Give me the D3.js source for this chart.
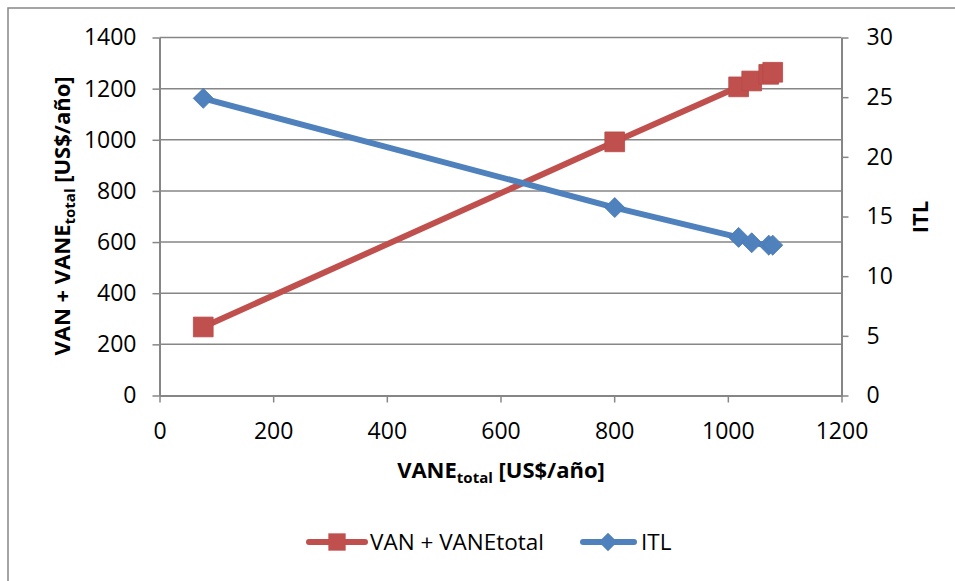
<!DOCTYPE html>
<html>
<head>
<meta charset="utf-8">
<script src="https://cdn.jsdelivr.net/npm/d3@7"></script>
<style>
  html, body { margin: 0; padding: 0; background: #fff; }
  svg { display: block; }
  text { font-family: "Open Sans", "Liberation Sans", Arial, sans-serif; fill: #000; }
</style>
</head>
<body>
<svg id="chart" width="955" height="581"></svg>
<script>
// VANE total values (shared x for both series)
const vaneTotal = [77, 801, 1019, 1042, 1072, 1079];
// VAN + VANE total, left axis
const vanPlusVane = [268, 992, 1207, 1230, 1256, 1264];
// ITL, right axis
const itl = [24.9, 15.75, 13.25, 12.8, 12.6, 12.6];

const xTicks = [0, 200, 400, 600, 800, 1000, 1200];
const yLeftTicks = [0, 200, 400, 600, 800, 1000, 1200, 1400];
const yRightTicks = [0, 5, 10, 15, 20, 25, 30];
const seriesNames = ["VAN + VANEtotal", "ITL"];

const svg = d3.select("#chart");
const plotLeft = 159.5, plotRight = 841.5, plotTop = 37.5, plotBottom = 395.5;
const gray = "#868686";
const red = "#C0504D", blue = "#4F81BD";
const fmt = d3.format("d");

// chart frame
svg.append("rect").attr("x", 8).attr("y", 8).attr("width", 960).attr("height", 600)
  .attr("fill", "none").attr("stroke", gray).attr("stroke-width", 1.5);

const x = d3.scaleLinear().domain([0, 1200]).range([plotLeft, plotRight]);
const yL = d3.scaleLinear().domain([0, 1400]).range([plotBottom, plotTop]);
const yR = d3.scaleLinear().domain([0, 30]).range([plotBottom, plotTop]);

// horizontal gridlines
svg.append("g").selectAll("line").data(yLeftTicks.filter(d => d > 0)).join("line")
  .attr("x1", plotLeft).attr("x2", plotRight)
  .attr("y1", d => yL(d)).attr("y2", d => yL(d))
  .attr("stroke", gray).attr("stroke-width", 1.5);

function styleAxis(g) {
  g.selectAll(".domain").attr("stroke", gray).attr("stroke-width", 2);
  g.selectAll(".tick line").attr("stroke", gray).attr("stroke-width", 1.5);
  g.selectAll(".tick text").attr("font-size", 23).attr("fill", "#000")
    .attr("font-family", "'Open Sans', 'Liberation Sans', Arial, sans-serif");
}

svg.append("g").attr("transform", `translate(0,${plotBottom})`)
  .call(d3.axisBottom(x).tickValues(xTicks).tickFormat(fmt).tickSizeInner(7).tickSizeOuter(0).tickPadding(20))
  .call(styleAxis);

svg.append("g").attr("transform", `translate(${plotLeft},0)`)
  .call(d3.axisLeft(yL).tickValues(yLeftTicks).tickFormat(fmt).tickSizeInner(7).tickSizeOuter(0).tickPadding(16))
  .call(styleAxis);

svg.append("g").attr("transform", `translate(${plotRight},0)`)
  .call(d3.axisRight(yR).tickValues(yRightTicks).tickFormat(fmt).tickSizeInner(7).tickSizeOuter(0).tickPadding(18))
  .call(styleAxis);

// axis titles
const xt = svg.append("text").attr("x", 501).attr("y", 478).attr("text-anchor", "middle")
  .attr("font-size", 22).attr("font-weight", "bold");
xt.append("tspan").text("VANE");
xt.append("tspan").attr("font-size", 15).attr("dy", 5).text("total");
xt.append("tspan").attr("dy", -5).text(" [US$/año]");

const yt = svg.append("text").attr("transform", "translate(70,216) rotate(-90)")
  .attr("text-anchor", "middle").attr("font-size", 22).attr("font-weight", "bold");
yt.append("tspan").text("VAN + VANE");
yt.append("tspan").attr("font-size", 15).attr("dy", 5).text("total");
yt.append("tspan").attr("dy", -5).text(" [US$/año]");

svg.append("text").attr("transform", "translate(928,217) rotate(-90)")
  .attr("text-anchor", "middle").attr("font-size", 22).attr("font-weight", "bold").text("ITL");

// series
const redPts = vaneTotal.map((v, i) => [x(v), yL(vanPlusVane[i])]);
const bluePts = vaneTotal.map((v, i) => [x(v), yR(itl[i])]);
const line = d3.line();

svg.append("path").attr("d", line(redPts)).attr("fill", "none")
  .attr("stroke", red).attr("stroke-width", 6).attr("stroke-linejoin", "round");
const sq = d3.symbol().type(d3.symbolSquare).size(390);
svg.append("g").selectAll("path").data(redPts).join("path")
  .attr("transform", d => `translate(${d[0]},${d[1]})`).attr("d", sq)
  .attr("fill", red).attr("stroke", "#b84a47").attr("stroke-width", 0.8);

svg.append("path").attr("d", line(bluePts)).attr("fill", "none")
  .attr("stroke", blue).attr("stroke-width", 6).attr("stroke-linejoin", "round");
const dm = d3.symbol().type(d3.symbolSquare).size(200);
svg.append("g").selectAll("path").data(bluePts).join("path")
  .attr("transform", d => `translate(${d[0]},${d[1]}) rotate(45)`).attr("d", dm)
  .attr("fill", blue).attr("stroke", "#4a7ab3").attr("stroke-width", 0.8);

// legend
const lg = svg.append("g");
lg.append("line").attr("x1", 309).attr("x2", 365).attr("y1", 542).attr("y2", 542)
  .attr("stroke", red).attr("stroke-width", 6).attr("stroke-linecap", "round");
lg.append("path").attr("transform", "translate(337,542)").attr("d", d3.symbol().type(d3.symbolSquare).size(300))
  .attr("fill", red);
lg.append("text").attr("x", 370).attr("y", 550).attr("font-size", 22.5).text(seriesNames[0]);
lg.append("line").attr("x1", 583).attr("x2", 634).attr("y1", 542).attr("y2", 542)
  .attr("stroke", blue).attr("stroke-width", 6).attr("stroke-linecap", "round");
lg.append("path").attr("transform", "translate(608,542) rotate(45)").attr("d", d3.symbol().type(d3.symbolSquare).size(170))
  .attr("fill", blue);
lg.append("text").attr("x", 641).attr("y", 550).attr("font-size", 22.5).text(seriesNames[1]);
</script>
</body>
</html>
